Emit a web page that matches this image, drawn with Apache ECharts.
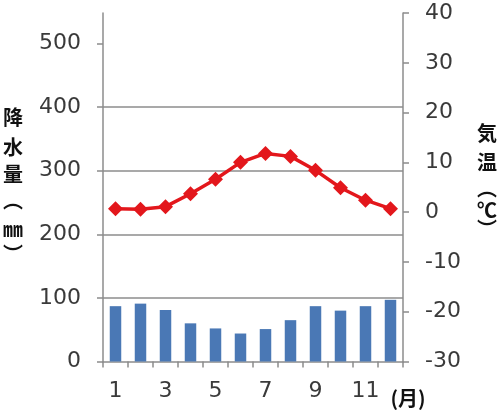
<!DOCTYPE html>
<html>
<head>
<meta charset="utf-8">
<script src="https://cdn.jsdelivr.net/npm/echarts@6/dist/echarts.min.js"></script>
<style>html,body{margin:0;padding:0;background:#fff}#c{width:500px;height:414px}</style>
</head>
<body>
<div id="c"></div>
<script>
var months = ['1','2','3','4','5','6','7','8','9','10','11','12'];
var precipitation = [87, 91, 81, 60, 52, 44, 51, 65, 87, 80, 87, 97];
var temperature = [0.7, 0.6, 1.1, 3.7, 6.6, 10.0, 11.8, 11.2, 8.4, 4.9, 2.4, 0.7];
var precipTicks = [0, 100, 200, 300, 400, 500];
var tempTicks = [-30, -20, -10, 0, 10, 20, 30, 40];
var leftNameChars = ['降', '水', '量', '︵', '㎜', '︶'];
var rightNameChars = ['気', '温', '︵', '℃', '︶'];

var FONT = '"Noto Sans CJK JP", "Noto Sans", sans-serif';
var NUMFONT = '"DejaVu Sans", sans-serif';
var GRAY = '#8c8c8c';

var leftY = [117, 147, 174, 200, 229, 254];
var rightY = [133, 162, 188, 210, 229];
var graphics = [];
leftNameChars.forEach(function (ch, i) {
  graphics.push({type: 'text', x: 13, y: leftY[i],
    style: {text: ch, fontSize: 20, fontWeight: 'bold', fill: '#111', fontFamily: FONT,
      align: 'center', verticalAlign: 'middle'}});
});
rightNameChars.forEach(function (ch, i) {
  graphics.push({type: 'text', x: 487, y: rightY[i],
    style: {text: ch, fontSize: 20, fontWeight: 'bold', fill: '#111', fontFamily: FONT,
      align: 'center', verticalAlign: 'middle'}});
});
graphics.push({type: 'text', x: 408, y: 398,
  style: {text: '(月)', fontSize: 20, fontWeight: 'bold', fill: '#111', fontFamily: FONT,
    align: 'center', verticalAlign: 'middle'}});

var chart = echarts.init(document.getElementById('c'));
chart.setOption({
  animation: false,
  grid: {left: 103, right: 97, top: 13, bottom: 52.5},
  xAxis: {
    type: 'category', data: months, boundaryGap: true,
    axisLine: {lineStyle: {color: GRAY, width: 1.5}},
    axisTick: {show: true, interval: 0, length: 6, lineStyle: {color: GRAY, width: 1.5}},
    axisLabel: {interval: 1, margin: 19, fontSize: 22, color: '#3a3a3a', fontFamily: NUMFONT}
  },
  yAxis: [{
    type: 'value', min: 0, max: 548, interval: 100, position: 'left',
    axisLine: {show: true, lineStyle: {color: GRAY, width: 1.5}},
    axisTick: {show: true, length: 6, customValues: precipTicks, lineStyle: {color: GRAY, width: 1.5}},
    axisLabel: {margin: 22, fontSize: 22, color: '#3a3a3a', fontFamily: NUMFONT, customValues: precipTicks},
    splitLine: {show: true, showMaxLine: false, showMinLine: false, lineStyle: {color: GRAY, width: 1.5}}
  }, {
    type: 'value', min: -30, max: 40, interval: 10, position: 'right',
    axisLine: {show: true, lineStyle: {color: GRAY, width: 1.5}},
    axisTick: {show: true, length: 6, lineStyle: {color: GRAY, width: 1.5}},
    axisLabel: {margin: 22, fontSize: 22, color: '#3a3a3a', fontFamily: NUMFONT,
      formatter: function (v) { return tempTicks.indexOf(v) >= 0 ? String(v) : ''; }},
    splitLine: {show: false}
  }],
  series: [{
    type: 'bar', data: precipitation, yAxisIndex: 0, barWidth: '46%',
    itemStyle: {color: '#4a78b5'}
  }, {
    type: 'line', data: temperature, yAxisIndex: 1,
    symbol: 'diamond', symbolSize: 15,
    lineStyle: {color: '#e3171c', width: 3.5},
    itemStyle: {color: '#e3171c'}
  }],
  graphic: graphics
});
</script>
</body>
</html>
